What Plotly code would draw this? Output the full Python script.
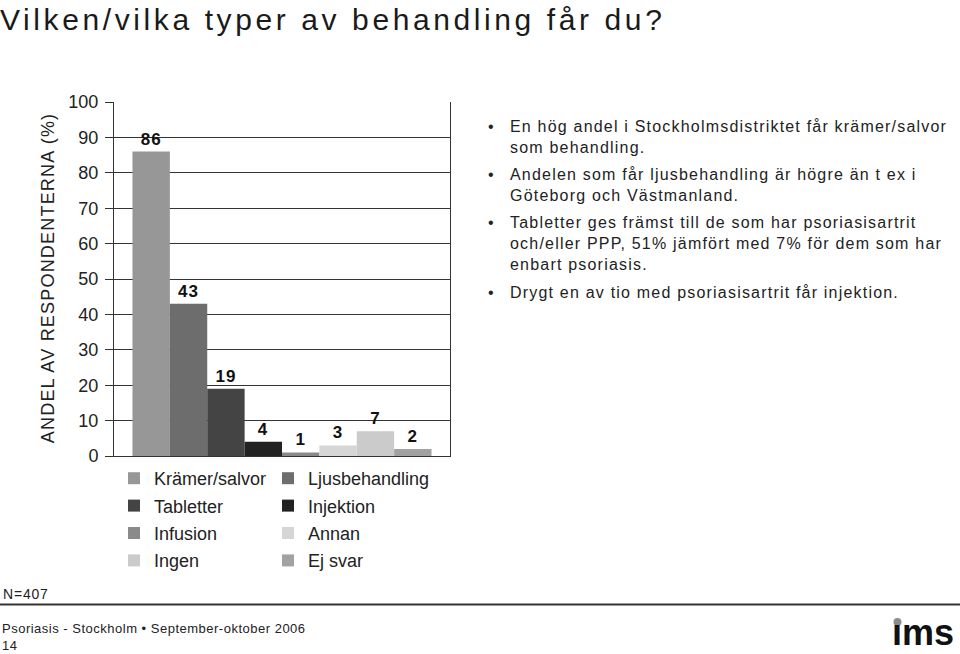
import plotly.graph_objects as go

title_text = "Vilken/vilka typer av behandling får du?"
categories = ["Krämer/salvor", "Ljusbehandling", "Tabletter", "Injektion",
              "Infusion", "Annan", "Ingen", "Ej svar"]
values = [86, 43, 19, 4, 1, 3, 7, 2]
colors = ["#979797", "#6d6d6d", "#444444", "#222222",
          "#8a8a8a", "#d6d6d6", "#cbcbcb", "#a2a2a2"]
y_ticks = [0, 10, 20, 30, 40, 50, 60, 70, 80, 90, 100]
y_title = "ANDEL AV RESPONDENTERNA (%)"
bullets = [
    "En hög andel i Stockholmsdistriktet får krämer/salvor<br>som behandling.",
    "Andelen som får ljusbehandling är högre än t ex i<br>Göteborg och Västmanland.",
    "Tabletter ges främst till de som har psoriasisartrit<br>och/eller PPP, 51% jämfört med 7% för dem som har<br>enbart psoriasis.",
    "Drygt en av tio med psoriasisartrit får injektion.",
]
bullet_tops = [116, 164, 212, 282]
n_text = "N=407"
footer_lines = ["Psoriasis - Stockholm • September-oktober 2006", "14"]
logo_text = "ıms"

W, H = 960, 654
L, R, T, B = 114, 450, 102, 456
FONT = "Liberation Sans, Arial, sans-serif"


def px(x):
    return (x - L) / (R - L)


def py(y):
    return (B - y) / (B - T)


fig = go.Figure()
for i, (cat, val, col) in enumerate(zip(categories, values, colors)):
    fig.add_trace(go.Bar(
        x=[0], y=[val], name=cat,
        marker=dict(color=col, line=dict(width=0)),
        text=[str(val)], textposition="outside",
        textfont=dict(family=FONT, size=17, color="#111111"),
        texttemplate="<b>%{text}</b>",
        cliponaxis=False,
        legend="legend" if i % 2 == 0 else "legend2",
        legendgroup=cat,
        hoverinfo="skip",
    ))

legend_common = dict(
    font=dict(family=FONT, size=18, color="#222222"),
    bgcolor="rgba(0,0,0,0)", borderwidth=0,
    orientation="v", yanchor="top", xanchor="left",
    tracegroupgap=1, traceorder="grouped",
)

annotations = []
annotations.append(dict(
    text=title_text, x=px(-2), y=py(19), xref="paper", yref="paper",
    xanchor="left", yanchor="middle", showarrow=False, align="left",
    font=dict(family=FONT, size=30, color="#1a1a1a")))
annotations.append(dict(
    text=y_title, x=px(48), y=py(278), xref="paper", yref="paper",
    xanchor="center", yanchor="middle", showarrow=False, textangle=-90,
    font=dict(family=FONT, size=18, color="#222222")))
for txt, top in zip(bullets, bullet_tops):
    annotations.append(dict(
        text="•", x=px(486), y=py(top), xref="paper", yref="paper",
        xanchor="left", yanchor="top", showarrow=False,
        font=dict(family=FONT, size=16, color="#222222")))
    annotations.append(dict(
        text=txt, x=px(508), y=py(top), xref="paper", yref="paper",
        xanchor="left", yanchor="top", showarrow=False, align="left",
        font=dict(family=FONT, size=16, color="#222222")))
annotations.append(dict(
    text=n_text, x=px(1), y=py(594), xref="paper", yref="paper",
    xanchor="left", yanchor="middle", showarrow=False, align="left",
    font=dict(family=FONT, size=14, color="#222222")))
annotations.append(dict(
    text="<br>".join(footer_lines), x=px(1), y=py(653.5), xref="paper",
    yref="paper", xanchor="left", yanchor="bottom", showarrow=False,
    align="left", borderpad=0,
    font=dict(family=FONT, size=13, color="#222222")))
annotations.append(dict(
    text="<b>" + logo_text + "</b>", x=px(955), y=py(653.5), xref="paper",
    yref="paper", xanchor="right", yanchor="bottom", showarrow=False,
    borderpad=0, font=dict(family=FONT, size=36, color="#111111")))

fig.update_layout(
    width=W, height=H,
    margin=dict(l=L, r=W - R, t=T, b=H - B, pad=0),
    paper_bgcolor="white", plot_bgcolor="white",
    barmode="group", bargap=0.11, bargroupgap=0,
    showlegend=True,
    legend=dict(x=px(114), y=py(460), **legend_common),
    legend2=dict(x=px(268), y=py(460), **legend_common),
    xaxis=dict(showticklabels=False, ticks="", showgrid=False,
               zeroline=False, showline=True, linecolor="#333333",
               linewidth=1, range=[-0.5, 0.5], fixedrange=True),
    yaxis=dict(range=[0, 100], tickvals=y_ticks, ticks="outside",
               ticklen=8, tickcolor="#333333", showgrid=True,
               gridcolor="#333333", gridwidth=1, showline=True,
               linecolor="#333333", linewidth=1, mirror=True,
               zeroline=False, ticklabelstandoff=3,
               tickfont=dict(family=FONT, size=18, color="#222222"),
               fixedrange=True),
    annotations=annotations,
    shapes=[
        dict(type="line", xref="paper", yref="paper",
             x0=px(0), x1=px(960), y0=py(604.5), y1=py(604.5),
             line=dict(color="#333333", width=2)),
        dict(type="circle", xref="paper", yref="paper",
             x0=px(893.5), x1=px(901.5), y0=py(626), y1=py(618),
             fillcolor="#8c8c8c", line=dict(width=0)),
    ],
)

post_js = """
var gd = document.getElementById('{plot_id}');
function spaceText() {
  gd.querySelectorAll('.bartext').forEach(function(e){ e.style.letterSpacing = '1px'; });
  gd.querySelectorAll('.annotation-text').forEach(function(e){
    var t = e.textContent || '';
    if (t.indexOf('Vilken') === 0) { e.style.letterSpacing = '3.6px'; }
    else if (t.indexOf('ANDEL') === 0) { e.style.letterSpacing = '1.2px'; }
    else if (t.indexOf('N=') === 0) { e.style.letterSpacing = '0.8px'; }
    else if (t.indexOf('Psoriasis') === 0) { e.style.letterSpacing = '0.5px'; }
    else if (t.length > 10) { e.style.letterSpacing = '1.2px'; }
  });
}
spaceText();
"""

fig.write_html("out.html", config={"displayModeBar": False}, post_script=post_js)
